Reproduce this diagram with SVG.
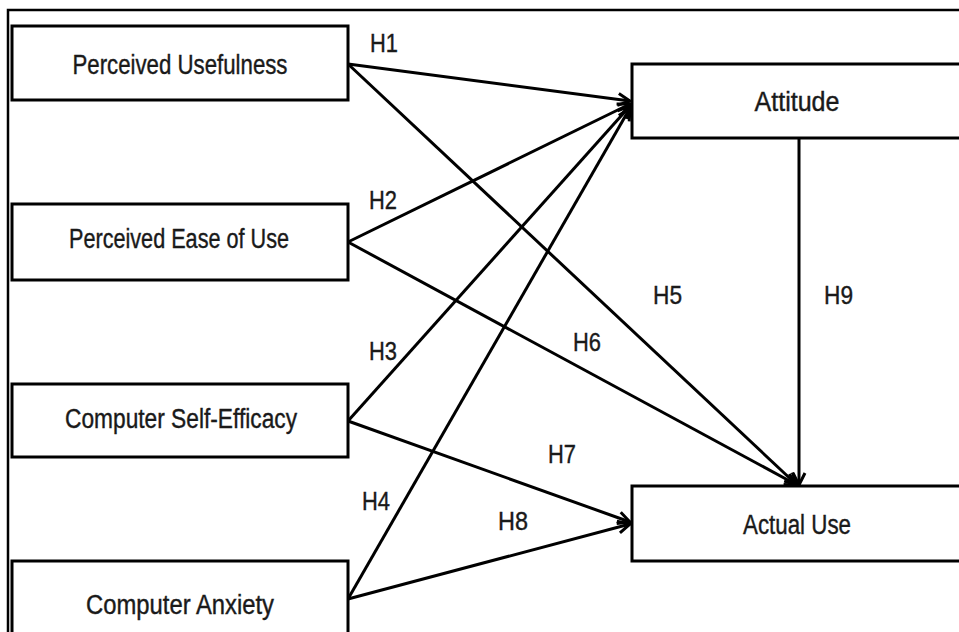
<svg xmlns="http://www.w3.org/2000/svg" width="959" height="632" viewBox="0 0 959 632">
<style>
.box{fill:#fff;stroke:#000;stroke-width:3}
.lbl{font-family:"Liberation Sans",Arial,sans-serif;font-size:27px;fill:#1a1a1a;text-anchor:middle;stroke:#1a1a1a;stroke-width:0.4}
.h{font-family:"Liberation Sans",Arial,sans-serif;font-size:26px;fill:#1a1a1a;stroke:#1a1a1a;stroke-width:0.4}
.c{stroke:#000;stroke-width:3;fill:none}
</style>
<defs>
<marker id="arr" markerUnits="userSpaceOnUse" markerWidth="16" markerHeight="16" refX="13" refY="7" orient="auto" viewBox="0 0 16 14">
<path d="M1,1 L13,7 L1,13" fill="none" stroke="#000" stroke-width="3"/>
</marker>
</defs>
<rect x="0" y="0" width="959" height="632" fill="#fff"/>
<rect x="8" y="10" width="1000" height="700" fill="none" stroke="#000" stroke-width="2.5"/>
<g id="connectors">
<line class="c" x1="348" y1="64" x2="630" y2="101" marker-end="url(#arr)"/>
<line class="c" x1="348" y1="242" x2="630" y2="104" marker-end="url(#arr)"/>
<line class="c" x1="348" y1="421" x2="630" y2="106" marker-end="url(#arr)"/>
<line class="c" x1="348" y1="599" x2="630" y2="108" marker-end="url(#arr)"/>
<line class="c" x1="348" y1="64" x2="797" y2="485" marker-end="url(#arr)"/>
<line class="c" x1="348" y1="242" x2="797" y2="485" marker-end="url(#arr)"/>
<line class="c" x1="348" y1="421" x2="630" y2="522" marker-end="url(#arr)"/>
<line class="c" x1="348" y1="599" x2="630" y2="524" marker-end="url(#arr)"/>
<line class="c" x1="799" y1="138" x2="799" y2="485" marker-end="url(#arr)"/>
<text class="h" x="370" y="52" textLength="28" lengthAdjust="spacingAndGlyphs">H1</text>
<text class="h" x="369" y="209" textLength="28" lengthAdjust="spacingAndGlyphs">H2</text>
<text class="h" x="369" y="360" textLength="28" lengthAdjust="spacingAndGlyphs">H3</text>
<text class="h" x="362" y="510" textLength="28" lengthAdjust="spacingAndGlyphs">H4</text>
<text class="h" x="653" y="304" textLength="29" lengthAdjust="spacingAndGlyphs">H5</text>
<text class="h" x="573" y="351" textLength="28" lengthAdjust="spacingAndGlyphs">H6</text>
<text class="h" x="548" y="463" textLength="28" lengthAdjust="spacingAndGlyphs">H7</text>
<text class="h" x="498" y="530" textLength="30" lengthAdjust="spacingAndGlyphs">H8</text>
<text class="h" x="824" y="304" textLength="29" lengthAdjust="spacingAndGlyphs">H9</text>
</g>
<g id="perceived-usefulness">
<rect class="box" x="12" y="26" width="336" height="74"/>
<text class="lbl" x="180" y="74" textLength="215" lengthAdjust="spacingAndGlyphs">Perceived Usefulness</text>
</g>
<g id="perceived-ease-of-use">
<rect class="box" x="12" y="204" width="336" height="76"/>
<text class="lbl" x="179" y="248" textLength="220" lengthAdjust="spacingAndGlyphs">Perceived Ease of Use</text>
</g>
<g id="computer-self-efficacy">
<rect class="box" x="12" y="384" width="336" height="73"/>
<text class="lbl" x="181" y="428" textLength="232" lengthAdjust="spacingAndGlyphs">Computer Self-Efficacy</text>
</g>
<g id="computer-anxiety">
<rect class="box" x="12" y="561" width="336" height="90"/>
<text class="lbl" x="180" y="614" textLength="188" lengthAdjust="spacingAndGlyphs">Computer Anxiety</text>
</g>
<g id="attitude">
<rect class="box" x="632" y="64" width="340" height="74"/>
<text class="lbl" x="797" y="111" textLength="85" lengthAdjust="spacingAndGlyphs">Attitude</text>
</g>
<g id="actual-use">
<rect class="box" x="632" y="486" width="340" height="75"/>
<text class="lbl" x="797" y="534" textLength="108" lengthAdjust="spacingAndGlyphs">Actual Use</text>
</g>
</svg>
